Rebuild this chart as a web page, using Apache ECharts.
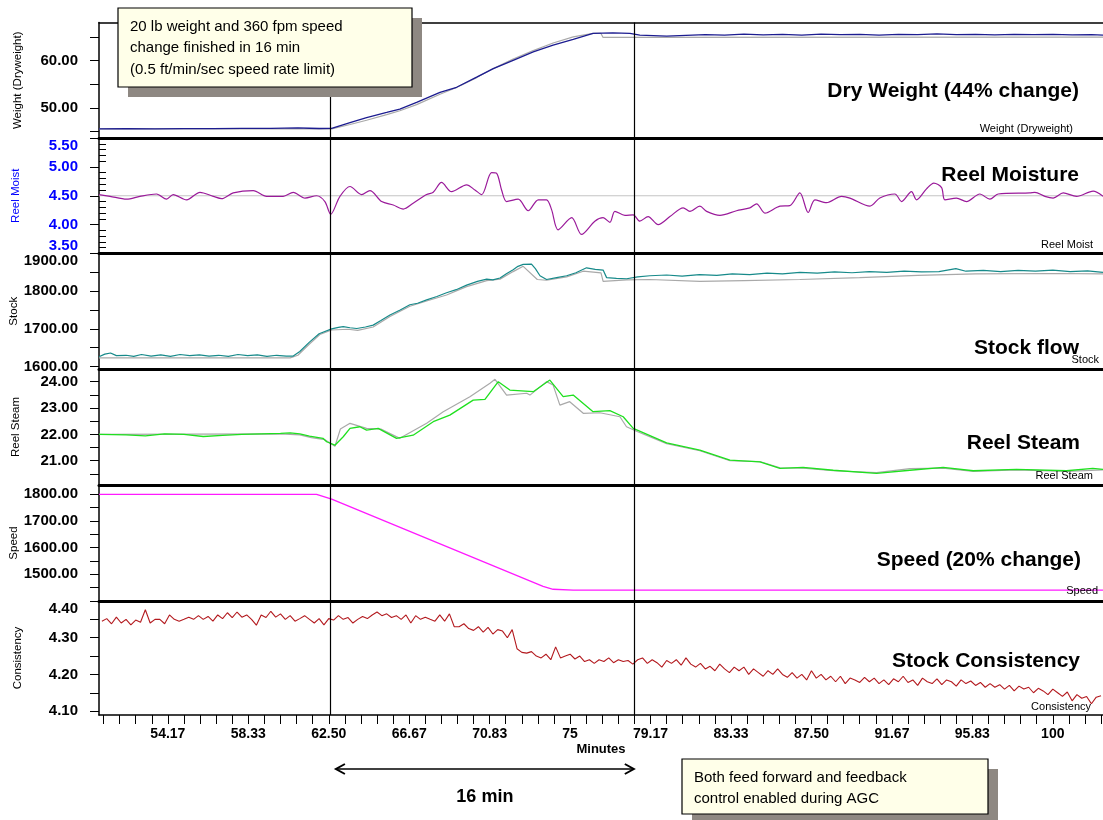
<!DOCTYPE html>
<html><head><meta charset="utf-8">
<script src="https://cdn.jsdelivr.net/npm/echarts@6/dist/echarts.min.js"></script>
<style>html,body{margin:0;padding:0;background:#fff}#c{width:1103px;height:820px}</style>
</head><body><div id="c"></div>
<script>
// ---------------- DATA ----------------
const xMin = 50.6, xMax = 102.6;
const xLabelValues = [54.1667, 58.3333, 62.5, 66.6667, 70.8333, 75, 79.1667, 83.3333, 87.5, 91.6667, 95.8333, 100];
const xLabelTexts = ['54.17','58.33','62.50','66.67','70.83','75','79.17','83.33','87.50','91.67','95.83','100'];
const eventMinutes = [62.56, 78.3];

const panelNames = ['Weight (Dryweight)','Reel Moist','Stock','Reel Steam','Speed','Consistency'];
const panelTitles = ['Dry Weight (44% change)','Reel Moisture','Stock flow','Reel Steam','Speed (20% change)','Stock Consistency'];
const yMins = [43.66, 3.5, 1593.6, 20.08, 1400, 4.0894];
const yMaxs = [68.02, 5.5, 1900, 24.48, 1835, 4.40];
const yTickValues = [[45,50,55,60,65],[3.5,4,4.5,5,5.5],[1600,1650,1700,1750,1800,1850,1900],[20.5,21,21.5,22,22.5,23,23.5,24],[1450,1500,1550,1600,1650,1700,1750,1800],[4.10,4.15,4.20,4.25,4.30,4.35,4.40]];
const yLabelValues = [[50,60],[3.5,4,4.5,5,5.5],[1600,1700,1800,1900],[21,22,23,24],[1500,1600,1700,1800],[4.10,4.20,4.30,4.40]];
const moistMinorTicks = [3.6,3.7,3.8,3.9,4.1,4.2,4.3,4.4,4.6,4.7,4.8,4.9,5.1,5.2,5.3,5.4];

const weightActual = [[50.6,45.6],[52,45.62],[53.5,45.6],[55,45.65],[56.5,45.64],[58,45.7],[59.5,45.68],[60.9,45.78],[61.5,45.72],[62.0,45.66],[62.65,45.68],[63.6,46.9],[64.46,47.98],[65.5,49.04],[66.18,49.77],[67.05,51.17],[68.26,53.3],[69.12,54.36],[70.16,56.49],[71.02,58.28],[72.05,60.04],[73.09,61.81],[74.12,63.23],[75.16,64.45],[76.19,65.72],[77.21,65.85],[78.1,65.72],[78.61,65.36],[80.0,65.15],[81.0,65.3],[82.0,65.45],[83.0,65.35],[84.0,65.55],[85.0,65.4],[86.0,65.5],[87.0,65.35],[88.0,65.55],[89.0,65.45],[90.0,65.5],[91.0,65.35],[92.0,65.5],[93.0,65.45],[94.0,65.6],[95.0,65.45],[96.0,65.5],[97.0,65.4],[98.0,65.5],[99.0,65.45],[100.0,65.5],[101.0,65.4],[102.0,65.45],[102.6,65.35]];
const weightModel = [[50.6,45.6],[62.65,45.6],[63.6,46.5],[64.46,47.4],[65.5,48.6],[66.18,49.4],[67.05,50.7],[68.26,52.9],[69.12,54.3],[70.16,56.4],[71.02,58.3],[72.05,60.3],[73.09,62.1],[74.12,63.7],[75.16,65.0],[76.19,65.72],[76.6,65.72],[76.7,64.9],[102.6,64.95]];

const moistActual = [[50.6,4.52],[51.17,4.49],[52.03,4.44],[52.72,4.49],[53.58,4.53],[54.10,4.44],[54.44,4.52],[55.14,4.43],[55.83,4.56],[56.52,4.49],[56.95,4.45],[57.55,4.55],[58.59,4.59],[59.28,4.49],[60.14,4.49],[60.66,4.56],[61.27,4.46],[61.87,4.50],[62.30,4.40],[62.60,4.18],[63.08,4.49],[63.60,4.66],[64.20,4.52],[64.63,4.59],[65.24,4.40],[65.84,4.34],[66.36,4.27],[66.87,4.37],[67.57,4.52],[67.91,4.56],[68.34,4.73],[68.86,4.57],[69.64,4.69],[70.07,4.60],[70.42,4.52],[70.93,4.90],[71.19,4.89],[71.45,4.60],[71.71,4.40],[72.31,4.44],[72.83,4.24],[73.35,4.43],[73.78,4.43],[74.04,4.26],[74.38,3.91],[75.08,4.12],[75.59,3.83],[76.28,4.06],[76.71,4.12],[77.06,4.04],[77.32,4.23],[77.84,4.16],[78.27,4.17],[78.61,4.06],[79.04,4.14],[79.56,4.00],[80.17,4.14],[80.86,4.29],[81.20,4.23],[81.72,4.32],[82.07,4.23],[82.76,4.16],[83.62,4.24],[84.31,4.29],[84.66,4.36],[85.09,4.20],[85.87,4.32],[86.38,4.33],[86.90,4.55],[87.33,4.21],[87.68,4.43],[88.28,4.38],[89.06,4.49],[89.49,4.46],[90.53,4.32],[91.04,4.46],[91.82,4.53],[92.17,4.40],[92.68,4.57],[92.94,4.43],[93.46,4.62],[93.84,4.72],[94.24,4.64],[94.41,4.43],[95.01,4.46],[95.53,4.40],[96.22,4.53],[96.74,4.44],[97.17,4.53],[98.81,4.55],[99.07,4.56],[99.59,4.49],[100.02,4.46],[100.54,4.55],[101.23,4.49],[102.09,4.58],[102.6,4.49]];
const moistTarget = [[50.6,4.5],[102.6,4.5]];

const stockActual = [[50.6,1626],[50.9,1633],[51.2,1636],[51.5,1629],[52.0,1630],[52.4,1627],[52.8,1632],[53.3,1628],[53.8,1631],[54.3,1627],[54.8,1632],[55.3,1629],[55.8,1631],[56.3,1628],[56.8,1630],[57.3,1627],[57.8,1632],[58.3,1629],[58.8,1631],[59.3,1627],[59.8,1630],[60.3,1628],[60.66,1628],[61.0,1640],[61.5,1665],[62.0,1687],[62.65,1700],[63.0,1704],[63.25,1706],[63.6,1703],[63.95,1701],[64.4,1705],[64.8,1710],[65.2,1722],[65.67,1737],[66.2,1750],[66.7,1764],[67.1,1768],[67.57,1777],[68.1,1786],[68.6,1796],[69.1,1804],[69.64,1816],[70.2,1826],[70.68,1832],[71.0,1830],[71.37,1835],[71.7,1846],[72.05,1857],[72.3,1866],[72.57,1871],[73.0,1872],[73.2,1860],[73.44,1841],[73.78,1831],[74.3,1836],[74.82,1841],[75.3,1849],[75.85,1862],[76.3,1858],[76.71,1856],[76.89,1836],[77.4,1834],[77.93,1833],[78.5,1838],[79.13,1841],[80.0,1843],[80.8,1840],[81.7,1844],[82.6,1842],[83.4,1846],[84.3,1844],[85.2,1848],[86.0,1846],[86.9,1850],[87.8,1848],[88.7,1851],[89.6,1849],[90.5,1852],[91.4,1850],[92.3,1853],[93.2,1851],[94.1,1852],[94.98,1860],[95.5,1853],[96.4,1855],[97.3,1852],[98.2,1855],[99.1,1853],[100.0,1856],[100.9,1852],[101.8,1854],[102.6,1850]];
const stockModel = [[50.6,1623],[60.5,1623],[60.9,1630],[61.5,1660],[62.04,1685],[62.65,1697],[63.5,1699],[64.0,1696],[64.8,1705],[65.67,1733],[66.7,1760],[67.57,1774],[68.6,1790],[69.64,1812],[70.68,1828],[71.37,1832],[72.05,1852],[72.57,1866],[73.3,1831],[73.78,1829],[74.82,1838],[75.68,1853],[76.6,1848.5],[76.71,1826],[77.93,1830],[79.13,1831],[81.72,1826],[84.0,1828],[86.9,1831],[90.0,1836],[93.0,1842],[96.0,1846],[100.0,1847],[102.6,1846]];

const steamActual = [[50.6,22.0],[52.0,21.98],[53.0,21.94],[54.0,22.02],[55.0,22.0],[56.0,21.92],[57.0,21.96],[58.0,22.0],[59.0,22.02],[60.0,22.04],[60.5,22.06],[61.0,22.02],[61.5,21.93],[62.2,21.85],[62.39,21.72],[62.82,21.59],[63.25,21.91],[63.6,22.23],[64.11,22.29],[64.46,22.16],[65.06,22.23],[66.01,21.85],[66.87,21.97],[67.91,22.48],[68.77,22.73],[69.98,23.30],[70.59,23.33],[71.28,24.00],[71.88,23.68],[73.09,23.62],[73.95,24.06],[74.64,23.43],[75.16,23.49],[76.19,22.86],[77.06,22.90],[77.75,22.67],[78.27,22.23],[80.0,21.68],[81.72,21.40],[83.28,21.02],[84.83,20.96],[85.87,20.71],[87.07,20.75],[88.63,20.64],[90.87,20.52],[92.6,20.64],[94.32,20.75],[95.88,20.62],[98.12,20.67],[100.71,20.62],[102.07,20.71],[102.6,20.67]];
const steamModel = [[50.6,22.0],[60.0,22.02],[61.0,21.98],[61.6,21.88],[62.3,21.8],[62.82,21.55],[63.1,22.2],[63.6,22.42],[64.46,22.23],[65.2,22.2],[66.18,21.85],[67.57,22.42],[68.43,22.86],[69.81,23.43],[70.85,23.94],[71.11,24.09],[71.71,23.49],[72.75,23.56],[72.92,23.49],[73.78,24.0],[74.12,23.87],[74.47,23.11],[74.98,23.24],[75.68,22.80],[76.54,22.82],[77.58,22.67],[77.92,22.29],[78.5,22.1],[80.0,21.65],[81.72,21.38],[83.28,21.0],[84.83,20.97],[85.87,20.73],[87.07,20.72],[88.63,20.62],[90.87,20.55],[92.6,20.7],[94.32,20.72],[95.88,20.6],[98.12,20.65],[100.71,20.6],[102.6,20.65]];

const speedActual = [[50.6,1800],[61.87,1800],[62.65,1782],[73.6,1455],[74.12,1444],[75.16,1441],[102.6,1441]];

const consistencyStart = 50.75, consistencyStep = 0.25;
const consistencyValues = [
4.345,4.352,4.338,4.356, 4.34,4.35,4.335,4.348, 4.342,4.376,4.34,4.35, 4.35,4.338,4.362,4.35,
4.345,4.35,4.356,4.35, 4.36,4.35,4.358,4.345, 4.362,4.352,4.368,4.355, 4.37,4.356,4.362,4.35,
4.334,4.362,4.355,4.372, 4.356,4.365,4.35,4.36, 4.345,4.352,4.36,4.35, 4.34,4.352,4.335,4.352,
4.348,4.36,4.35,4.355, 4.34,4.35,4.358,4.352, 4.362,4.37,4.36,4.365, 4.355,4.36,4.35,4.362,
4.34,4.36,4.35,4.356, 4.35,4.345,4.362,4.345, 4.365,4.33,4.33,4.338, 4.325,4.32,4.33,4.315,
4.328,4.31,4.322,4.318, 4.30,4.322,4.27,4.26, 4.258,4.262,4.25,4.245, 4.255,4.24,4.275,4.245,
4.25,4.255,4.242,4.25, 4.235,4.24,4.23,4.24, 4.235,4.245,4.232,4.24, 4.235,4.238,4.228,4.24,
4.245,4.23,4.24,4.232, 4.22,4.238,4.23,4.24, 4.225,4.245,4.228,4.22, 4.23,4.215,4.222,4.21,
4.228,4.215,4.205,4.22, 4.21,4.22,4.2,4.215, 4.205,4.195,4.21,4.2, 4.215,4.2,4.192,4.205,
4.19,4.2,4.185,4.21, 4.19,4.2,4.185,4.195, 4.18,4.195,4.175,4.19, 4.185,4.178,4.192,4.18,
4.19,4.175,4.185,4.172, 4.188,4.18,4.195,4.178, 4.185,4.17,4.19,4.18, 4.175,4.188,4.172,4.185,
4.18,4.168,4.185,4.175, 4.182,4.17,4.178,4.165, 4.175,4.165,4.172,4.16, 4.17,4.155,4.168,4.16,
4.165,4.15,4.162,4.155, 4.145,4.16,4.15,4.14, 4.152,4.128,4.145,4.135, 4.14,4.12,4.138,4.142
];

// ---------------- LAYOUT ----------------
const FONT = '"Liberation Sans", Arial, Helvetica, sans-serif';
const gridTop = [22.5, 138, 253.5, 369, 485, 601];
const gridH = [115.5, 115.5, 115.5, 116, 116, 114];
const nameGaps = [75, 77, 79, 77.5, 79, 75.5];
const maxLabelAlign = [null, 'top', 'top', null, null, 'top'];
const minLabelAlign = [null, 'bottom', null, null, null, null];
const GRAY = '#a9a9a9';

const chart = echarts.init(document.getElementById('c'), null, {renderer: 'canvas'});

const xTicks = [];
for (let k = 61; k * 5 / 6 <= xMax; k++) xTicks.push(k * 5 / 6);

const grids = gridTop.map((t, i) => ({left: 99, right: 0, top: t, height: gridH[i], outerBoundsMode: 'none', containLabel: false}));

const xAxes = gridTop.map((t, i) => {
  const last = i === 5;
  return {
    gridIndex: i, type: 'value', min: xMin, max: xMax, position: 'bottom',
    splitLine: {show: false},
    axisLine: {show: true, onZero: false, lineStyle: {color: '#000', width: last ? 1.5 : 3}},
    axisTick: {show: last, customValues: xTicks, length: 9, lineStyle: {color: '#000', width: 1}},
    axisLabel: {show: last, customValues: xLabelValues, margin: 12,
      fontFamily: FONT, fontSize: 14, fontWeight: 'bold', color: '#000',
      formatter: v => { let best = 0; xLabelValues.forEach((lv, j) => { if (Math.abs(lv - v) < Math.abs(xLabelValues[best] - v)) best = j; }); return xLabelTexts[best]; }},
    name: last ? 'Minutes' : '', nameLocation: 'middle', nameGap: 28, nameMoveOverlap: false,
    nameTextStyle: {fontFamily: FONT, fontSize: 13, fontWeight: 'bold', color: '#000'}
  };
});
xAxes.push({gridIndex: 0, type: 'value', min: xMin, max: xMax, position: 'top',
  splitLine: {show: false}, axisLine: {show: true, onZero: false, lineStyle: {color: '#000', width: 1.5}},
  axisTick: {show: false}, axisLabel: {show: false}});

const yAxes = gridTop.map((t, i) => {
  const col = i === 1 ? '#0000ff' : '#000';
  const lab = {customValues: yLabelValues[i], margin: 21, fontFamily: FONT, fontSize: 15, fontWeight: 'bold', color: col,
      formatter: v => v.toFixed(2)};
  if (maxLabelAlign[i]) lab.verticalAlignMaxLabel = maxLabelAlign[i];
  if (minLabelAlign[i]) lab.verticalAlignMinLabel = minLabelAlign[i];
  return {
    gridIndex: i, type: 'value', min: yMins[i], max: yMaxs[i], position: 'left',
    splitLine: {show: false},
    axisLine: {show: true, onZero: false, lineStyle: {color: '#000', width: 1.5}},
    axisTick: {show: true, customValues: yTickValues[i], length: 9, lineStyle: {color: '#000', width: 1}},
    axisLabel: lab,
    name: panelNames[i], nameLocation: 'middle', nameGap: nameGaps[i], nameRotate: 90, nameMoveOverlap: false,
    nameTextStyle: {fontFamily: FONT, fontSize: 11.5, color: col}
  };
});
yAxes.push({gridIndex: 1, type: 'value', min: yMins[1], max: yMaxs[1], position: 'left',
  splitLine: {show: false}, axisLine: {show: false},
  axisTick: {show: true, inside: true, customValues: moistMinorTicks, length: 7, lineStyle: {color: '#000', width: 1}},
  axisLabel: {show: false}});

const eventLine = {
  silent: true, symbol: ['none', 'none'], animation: false,
  label: {show: false}, emphasis: {disabled: true},
  lineStyle: {color: '#000', width: 1.2, type: 'solid'},
  data: eventMinutes.map(v => ({xAxis: v}))
};

function line(data, gi, color, width, withEvent, smooth) {
  const s = {type: 'line', xAxisIndex: gi, yAxisIndex: gi, data: data, showSymbol: false, symbol: 'none',
    smooth: smooth || false, lineStyle: {color: color, width: width}, itemStyle: {color: color},
    animation: false, silent: true, z: 3};
  if (withEvent) s.markLine = eventLine;
  return s;
}

const consistencyData = consistencyValues.map((v, i) => [consistencyStart + i * consistencyStep, v]);

const series = [
  line(weightModel, 0, GRAY, 1.2, false),
  line(weightActual, 0, '#1c1c90', 1.3, true),
  line(moistTarget, 1, '#c4c4c4', 1.2, false),
  line(moistActual, 1, '#9a1a9a', 1.2, true, 0.3),
  line(stockModel, 2, GRAY, 1.2, false),
  line(stockActual, 2, '#178a8a', 1.2, true),
  line(steamModel, 3, GRAY, 1.2, false),
  line(steamActual, 3, '#1fe01f', 1.3, true),
  line(speedActual, 4, '#ff1aff', 1.3, true),
  line(consistencyData, 5, '#b3191e', 1.1, true)
];

chart.setOption({
  animation: false,
  backgroundColor: '#fff',
  textStyle: {fontFamily: FONT},
  grid: grids, xAxis: xAxes, yAxis: yAxes, series: series
});

// ---------------- ANNOTATIONS ----------------
function txt(text, x, y, size, bold, align, color) {
  return {type: 'text', x: x, y: y, z: 50, silent: true,
    style: {text: text, fontFamily: FONT, fontSize: size, fontWeight: bold ? 'bold' : 'normal',
      fill: color || '#000', align: align || 'right', verticalAlign: 'middle'}};
}
function box(x, y, w, h, lines, lh) {
  return [
    {type: 'rect', z: 40, silent: true, shape: {x: x + 10, y: y + 10, width: w, height: h}, style: {fill: '#8e8882'}},
    {type: 'rect', z: 41, silent: true, shape: {x: x, y: y, width: w, height: h}, style: {fill: '#ffffe9', stroke: '#000', lineWidth: 1.2}},
    {type: 'text', z: 42, silent: true, x: x + 12, y: y + 8,
      style: {text: lines.join('\n'), fontFamily: FONT, fontSize: 15, fill: '#000', lineHeight: lh, align: 'left', verticalAlign: 'top'}}
  ];
}

const titleRight = [1079, 1079, 1079, 1080, 1081, 1080];
const titleY = [91, 175, 348, 443, 560, 661];
const smallRight = [1073, 1093, 1099, 1093, 1098, 1091];
const smallY = [129, 245, 360, 476, 591, 707];

const g = [];
panelTitles.forEach((t, i) => {
  g.push(txt(t, titleRight[i], titleY[i], 21, true));
  g.push(txt(panelNames[i], smallRight[i], smallY[i], 11, false));
});

const xa = chart.convertToPixel({xAxisIndex: 5}, eventMinutes[0]) + 6;
const xb = chart.convertToPixel({xAxisIndex: 5}, eventMinutes[1]);
const ay = 769;
g.push({type: 'line', z: 30, silent: true, shape: {x1: xa, y1: ay, x2: xb, y2: ay}, style: {stroke: '#000', lineWidth: 1.5}});
g.push({type: 'polyline', z: 30, silent: true, shape: {points: [[xa + 9, ay - 5], [xa, ay], [xa + 9, ay + 5]]}, style: {stroke: '#000', lineWidth: 2, fill: null}});
g.push({type: 'polyline', z: 30, silent: true, shape: {points: [[xb - 9, ay - 5], [xb, ay], [xb - 9, ay + 5]]}, style: {stroke: '#000', lineWidth: 2, fill: null}});
g.push(txt('16 min', (xa + xb) / 2, 797, 18, true, 'center'));

box(118, 8, 294, 79, ['20 lb weight and 360 fpm speed', 'change finished in 16 min', '(0.5 ft/min/sec speed rate limit)'], 21.5).forEach(e => g.push(e));
box(682, 759, 306, 55, ['Both feed forward and feedback', 'control enabled during AGC'], 21).forEach(e => g.push(e));

chart.setOption({graphic: g});
</script></body></html>
